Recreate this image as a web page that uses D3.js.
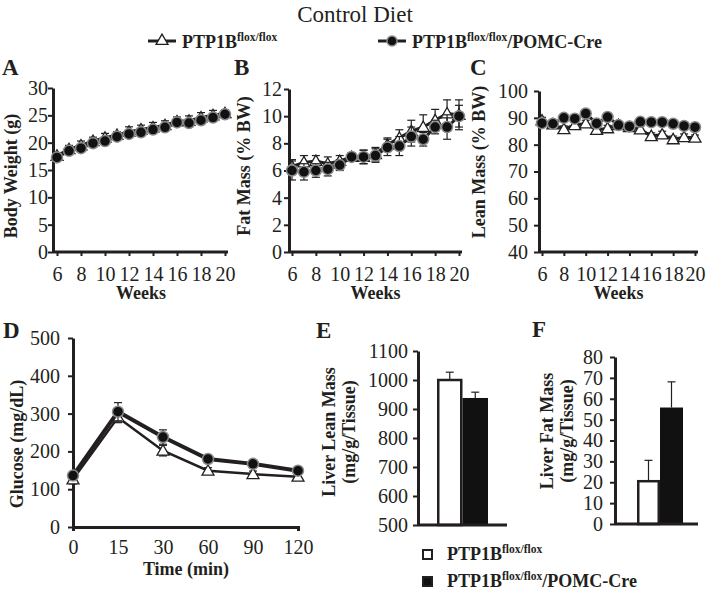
<!DOCTYPE html>
<html>
<head>
<meta charset="utf-8">
<script src="https://cdn.jsdelivr.net/npm/d3@7"></script>
<style>
body { margin: 0; background: #fff; }
text { font-family: "Liberation Serif", "Times New Roman", serif; fill: #231f20; }
</style>
</head>
<body>
<div id="chart"></div>
<script>
var svgWidth = 710;
var svgHeight = 595;

// ---- data ----
var weeks = [6, 7, 8, 9, 10, 11, 12, 13, 14, 15, 16, 17, 18, 19, 20];
var weekTicks = [6, 8, 10, 12, 14, 16, 18, 20];

// A: body weight (g)
var bwWT = [17.6, 18.8, 19.5, 20.3, 20.9, 21.4, 22.0, 22.4, 22.8, 23.2, 23.9, 24.0, 24.6, 25.0, 25.4];
var bwWTerr = [0.6, 0.7, 0.8, 0.7, 0.8, 0.6, 0.9, 0.8, 0.9, 0.8, 0.8, 0.9, 0.9, 0.9, 0.6];
var bwKO = [17.3, 18.5, 19.0, 19.9, 20.3, 21.1, 21.6, 21.9, 22.4, 22.8, 23.7, 23.6, 24.1, 24.6, 25.2];
var bwKOerr = [0.5, 0.5, 0.6, 0.5, 0.6, 0.5, 0.6, 0.6, 0.6, 0.6, 0.6, 0.6, 0.7, 0.6, 0.6];

// B: fat mass (% BW)
var fmWT = [6.3, 6.6, 6.7, 6.5, 6.7, 7.0, 7.0, 7.2, 7.9, 8.4, 8.9, 9.2, 9.7, 10.2, 10.1];
var fmWTerr = [0.5, 0.5, 0.4, 0.5, 0.4, 0.3, 0.5, 0.5, 0.5, 0.6, 0.8, 0.9, 0.8, 1.0, 1.1];
var fmKO = [6.0, 5.9, 6.0, 6.1, 6.4, 7.0, 7.0, 7.1, 7.7, 7.8, 8.5, 8.3, 9.2, 9.2, 10.0];
var fmKOerr = [0.7, 0.6, 0.5, 0.5, 0.4, 0.3, 0.5, 0.5, 0.6, 0.7, 0.7, 0.5, 0.5, 0.9, 0.8];

// C: lean mass (% BW)
var lmWT = [89.0, 87.6, 85.8, 87.3, 87.9, 85.5, 86.1, 87.3, 86.5, 85.7, 83.2, 83.8, 82.0, 82.8, 82.6];
var lmWTerr = [1.2, 1.0, 1.2, 1.2, 1.2, 1.2, 1.1, 1.0, 1.0, 1.2, 1.2, 1.2, 1.2, 1.2, 1.0];
var lmKO = [88.0, 87.8, 90.0, 89.7, 91.6, 87.9, 90.3, 87.3, 86.8, 88.5, 88.4, 88.4, 87.8, 87.0, 86.5];
var lmKOerr = [1.0, 0.8, 1.0, 1.0, 1.0, 1.0, 1.0, 0.8, 0.8, 1.0, 1.0, 1.0, 1.0, 1.0, 1.0];

// D: glucose tolerance (mg/dL)
var gttTimes = ["0", "15", "30", "60", "90", "120"];
var gttWT = [126, 290, 202, 149, 140, 133];
var gttWTerr = [12, 14, 14, 8, 8, 8];
var gttKO = [136, 305, 238, 180, 167, 149];
var gttKOerr = [10, 24, 19, 9, 10, 9];

// E, F: liver
var groups = ["PTP1Bflox/flox", "PTP1Bflox/flox/POMC-Cre"];
var liverLean = [1000, 938];
var liverLeanErr = [27, 20];
var liverFat = [20.5, 55.8];
var liverFatErr = [10, 12.3];

var ink = "#231f20";

var svg = d3.select("#chart")
  .append("svg")
  .attr("width", svgWidth)
  .attr("height", svgHeight);

// style an axis group like the figure
function styleAxis(g) {
  g.attr("font-family", "Liberation Serif").attr("font-size", 20);
  g.select(".domain").attr("stroke", ink).attr("stroke-width", 3);
  g.selectAll(".tick line").attr("stroke", ink).attr("stroke-width", 2);
  g.selectAll(".tick text").attr("fill", ink);
}

function yTitle(lines, x, y, lineGap) {
  var t = svg.append("text")
    .attr("transform", `translate(${x}, ${y}) rotate(-90)`)
    .attr("text-anchor", "middle")
    .attr("font-weight", "bold")
    .attr("font-size", 18);
  lines.forEach(function(s, i) {
    t.append("tspan").attr("x", 0).attr("dy", i == 0 ? 0 : lineGap).text(s);
  });
}

function panelLetter(s, x, y) {
  svg.append("text").attr("x", x).attr("y", y)
    .attr("font-weight", "bold").attr("font-size", 23).text(s);
}

function errBars(g, xs, ys, es, x, y, cap) {
  var d = xs.map((v, i) => ({x: v, y: ys[i], e: es[i]}));
  var eb = g.append("g").attr("stroke", ink).attr("stroke-width", 1.2);
  eb.selectAll(".v").data(d).enter().append("line")
    .attr("x1", d => x(d.x)).attr("x2", d => x(d.x))
    .attr("y1", d => y(d.y - d.e)).attr("y2", d => y(d.y + d.e));
  eb.selectAll(".t").data(d).enter().append("line")
    .attr("x1", d => x(d.x) - cap).attr("x2", d => x(d.x) + cap)
    .attr("y1", d => y(d.y + d.e)).attr("y2", d => y(d.y + d.e));
  eb.selectAll(".b").data(d).enter().append("line")
    .attr("x1", d => x(d.x) - cap).attr("x2", d => x(d.x) + cap)
    .attr("y1", d => y(d.y - d.e)).attr("y2", d => y(d.y - d.e));
}

var triangle = d3.symbol().type(d3.symbolTriangle).size(62);

function series(g, xs, ys, es, x, y, kind, lw) {
  errBars(g, xs, ys, es, x, y, 4);
  var line = d3.line().x((d, i) => x(xs[i])).y(d => y(d));
  g.append("path").datum(ys)
    .attr("d", line)
    .attr("fill", "none")
    .attr("stroke", ink)
    .attr("stroke-width", lw);
  if (kind == "tri") {
    g.selectAll(".tri").data(ys).enter().append("path")
      .attr("d", triangle)
      .attr("transform", (d, i) => `translate(${x(xs[i])}, ${y(d) + 1})`)
      .attr("fill", "#fff").attr("stroke", ink).attr("stroke-width", 1.3);
  } else {
    g.selectAll(".dot").data(ys).enter().append("circle")
      .attr("cx", (d, i) => x(xs[i])).attr("cy", d => y(d))
      .attr("r", 5.5)
      .attr("fill", "#111").attr("stroke", "#8a8a8a").attr("stroke-width", 1.5);
  }
}

// ---- A, B, C: weekly panels ----
function weekPanel(p) {
  var x = d3.scaleLinear().domain([6, 20]).range(p.xr);
  var y = d3.scaleLinear().domain(p.yd).range([p.bottom, p.top]);
  var g = svg.append("g");

  var xAxis = g.append("g")
    .attr("transform", `translate(0, ${p.bottom})`)
    .call(d3.axisBottom(x).tickValues(weekTicks).tickSizeInner(4).tickSizeOuter(0).tickPadding(11));
  styleAxis(xAxis);
  xAxis.select(".domain").attr("d", `M${p.left},0H${p.right}`);

  var yAxis = g.append("g")
    .attr("transform", `translate(${p.left}, 0)`)
    .call(d3.axisLeft(y).tickValues(p.yt).tickSizeInner(5).tickSizeOuter(0).tickPadding(p.ypad));
  styleAxis(yAxis);

  series(g, weeks, p.wt, p.wtErr, x, y, "tri", 3);
  series(g, weeks, p.ko, p.koErr, x, y, "dot", 3);

  svg.append("text")
    .attr("x", (p.xr[0] + p.xr[1]) / 2).attr("y", 299)
    .attr("text-anchor", "middle").attr("font-weight", "bold").attr("font-size", 18)
    .text("Weeks");
  yTitle([p.title], p.titleX, p.titleY, 0);
  panelLetter(p.letter, p.letterX, 75);
}

weekPanel({letter: "A", letterX: 2, left: 53, right: 228, xr: [57, 225], top: 88, bottom: 252, ypad: 0,
  yd: [0, 30], yt: d3.range(0, 31, 5), wt: bwWT, wtErr: bwWTerr, ko: bwKO, koErr: bwKOerr,
  title: "Body Weight (g)", titleX: 17, titleY: 176});
weekPanel({letter: "B", letterX: 234, left: 289, right: 462, xr: [292, 459], top: 89, bottom: 252, ypad: 2,
  yd: [0, 12], yt: d3.range(0, 13, 2), wt: fmWT, wtErr: fmWTerr, ko: fmKO, koErr: fmKOerr,
  title: "Fat Mass (% BW)", titleX: 250, titleY: 166});
weekPanel({letter: "C", letterX: 470, left: 539, right: 698, xr: [542, 695], top: 91, bottom: 252, ypad: 6,
  yd: [40, 100], yt: d3.range(40, 101, 10), wt: lmWT, wtErr: lmWTerr, ko: lmKO, koErr: lmKOerr,
  title: "Lean Mass (% BW)", titleX: 485, titleY: 162});

// ---- D: glucose ----
(function() {
  var x = d3.scalePoint().domain(gttTimes).range([73, 298]);
  var y = d3.scaleLinear().domain([0, 500]).range([527, 338]);
  var g = svg.append("g");
  var xAxis = g.append("g")
    .attr("transform", "translate(0, 527)")
    .call(d3.axisBottom(x).tickSizeInner(0).tickSizeOuter(4).tickPadding(13));
  styleAxis(xAxis);
  var yAxis = g.append("g")
    .attr("transform", "translate(73, 0)")
    .call(d3.axisLeft(y).ticks(5).tickSizeInner(5).tickSizeOuter(0).tickPadding(8));
  styleAxis(yAxis);

  series(g, gttTimes, gttWT, gttWTerr, x, y, "tri", 2.5);
  series(g, gttTimes, gttKO, gttKOerr, x, y, "dot", 4);

  svg.append("text").attr("x", 186).attr("y", 575)
    .attr("text-anchor", "middle").attr("font-weight", "bold").attr("font-size", 18)
    .text("Time (min)");
  yTitle(["Glucose (mg/dL)"], 23, 444, 0);
  panelLetter("D", 3, 338);
})();

// ---- E, F: liver bars ----
function barPanel(p) {
  var x = d3.scaleBand().domain(groups).range(p.xr).padding(0);
  var y = d3.scaleLinear().domain(p.yd).range([p.bottom, p.top]);
  var g = svg.append("g");

  var bars = groups.map((k, i) => ({k: k, v: p.vals[i], e: p.errs[i], i: i}));
  var eb = g.append("g").attr("stroke", ink).attr("stroke-width", 1.2);
  eb.selectAll(".v").data(bars).enter().append("line")
    .attr("x1", d => x(d.k) + x.bandwidth() / 2).attr("x2", d => x(d.k) + x.bandwidth() / 2)
    .attr("y1", d => y(d.v)).attr("y2", d => y(d.v + d.e));
  eb.selectAll(".c").data(bars).enter().append("line")
    .attr("x1", d => x(d.k) + x.bandwidth() / 2 - 4).attr("x2", d => x(d.k) + x.bandwidth() / 2 + 4)
    .attr("y1", d => y(d.v + d.e)).attr("y2", d => y(d.v + d.e));

  g.selectAll(".bar").data(bars).enter().append("rect")
    .attr("x", d => x(d.k) + (d.i == 0 ? 1.25 : 0))
    .attr("y", d => y(d.v))
    .attr("width", d => x.bandwidth() - (d.i == 0 ? 2.5 : 0))
    .attr("height", d => p.bottom - y(d.v))
    .attr("fill", d => d.i == 0 ? "#fff" : "#111")
    .attr("stroke", d => d.i == 0 ? ink : "none")
    .attr("stroke-width", 2.5);

  var yAxis = g.append("g")
    .attr("transform", `translate(${p.left}, 0)`)
    .call(d3.axisLeft(y).tickValues(p.yt).tickFormat(d3.format("d"))
      .tickSizeInner(5).tickSizeOuter(0).tickPadding(p.ypad));
  styleAxis(yAxis);
  g.append("line")
    .attr("x1", p.left).attr("x2", p.right)
    .attr("y1", p.bottom).attr("y2", p.bottom)
    .attr("stroke", ink).attr("stroke-width", 3);

  yTitle(p.title, p.titleX, p.titleY, 20);
  panelLetter(p.letter, p.letterX, p.letterY);
}

barPanel({letter: "E", letterX: 316, letterY: 338, left: 418, right: 507, xr: [437, 488], ypad: 5,
  top: 351, bottom: 525, yd: [500, 1100], yt: d3.range(500, 1101, 100),
  vals: liverLean, errs: liverLeanErr, title: ["Liver Lean Mass", "(mg/g/Tissue)"], titleX: 335, titleY: 432});
barPanel({letter: "F", letterX: 532, letterY: 337, left: 615, right: 698, xr: [637, 683], ypad: 7,
  top: 357, bottom: 524, yd: [0, 80], yt: d3.range(0, 81, 10),
  vals: liverFat, errs: liverFatErr, title: ["Liver Fat Mass", "(mg/g/Tissue)"], titleX: 553, titleY: 431});

// ---- title and legends ----
svg.append("text").attr("x", 355).attr("y", 22)
  .attr("text-anchor", "middle").attr("font-size", 23).text("Control Diet");

function legendLabel(x, y, withCre) {
  var t = svg.append("text").attr("x", x).attr("y", y)
    .attr("font-weight", "bold").attr("font-size", 18);
  t.append("tspan").text("PTP1B");
  t.append("tspan").attr("dy", -7).attr("font-size", 11.5).text("flox/flox");
  if (withCre) t.append("tspan").attr("dy", 7).text("/POMC-Cre");
}

var legTop = [
  {x: 148, kind: "tri", label: false},
  {x: 378, kind: "dot", label: true}
];
legTop.forEach(function(d) {
  svg.append("line").attr("x1", d.x).attr("x2", d.x + 28).attr("y1", 41).attr("y2", 41)
    .attr("stroke", ink).attr("stroke-width", 3);
  if (d.kind == "tri") {
    svg.append("path").attr("d", triangle).attr("transform", `translate(${d.x + 14}, 41)`)
      .attr("fill", "#fff").attr("stroke", ink).attr("stroke-width", 1.3);
  } else {
    svg.append("circle").attr("cx", d.x + 14).attr("cy", 41).attr("r", 5)
      .attr("fill", "#111").attr("stroke", "#8a8a8a").attr("stroke-width", 1.5);
  }
  legendLabel(d.x + 34, 48, d.label);
});

groups.forEach(function(k, i) {
  var yy = 550 + i * 27;
  svg.append("rect").attr("x", 423).attr("y", yy).attr("width", 9).attr("height", 9)
    .attr("fill", i == 0 ? "#fff" : "#111").attr("stroke", ink).attr("stroke-width", 2);
  legendLabel(447, yy + 10, i == 1);
});
</script>
</body>
</html>
